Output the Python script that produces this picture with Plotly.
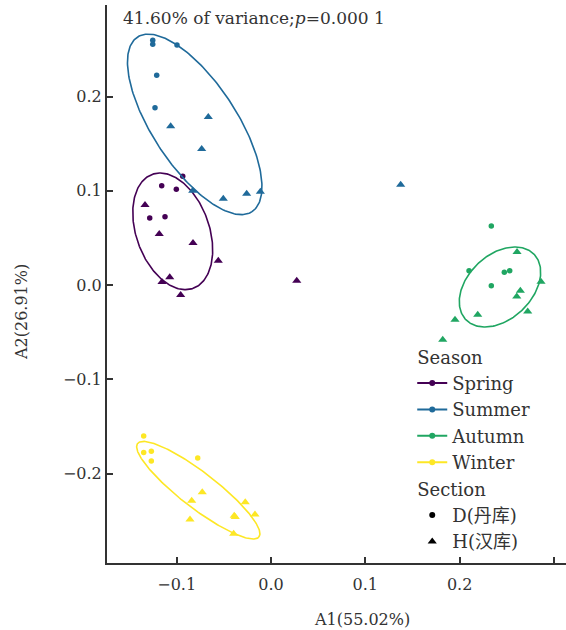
import numpy as np
import plotly.graph_objects as go

# ---------------- data ----------------
seasons = ["Spring", "Summer", "Autumn", "Winter"]
season_colors = ["#440154", "#1F6A9A", "#20A662", "#FDE725"]
sections = ["D(丹库)", "H(汉库)"]

spring_d_a1 = [-0.0936, -0.1159, -0.1004, -0.1286, -0.1124]
spring_d_a2 = [0.1154, 0.1055, 0.1016, 0.0713, 0.0726]
spring_h_a1 = [-0.1336, -0.1185, -0.0827, -0.0559, -0.1074, -0.1156, -0.0958, 0.0273]
spring_h_a2 = [0.0850, 0.0543, 0.0448, 0.0260, 0.0083, 0.0034, -0.0104, 0.0048]

summer_d_a1 = [-0.1254, -0.1254, -0.0997, -0.1212, -0.1230]
summer_d_a2 = [0.2596, 0.2554, 0.2547, 0.2225, 0.1882]
summer_h_a1 = [-0.1064, -0.0665, -0.0735, -0.0830, -0.0506, -0.0258, -0.0113, 0.1375]
summer_h_a2 = [0.1684, 0.1784, 0.1444, 0.1002, 0.0917, 0.0970, 0.0992, 0.1066]

autumn_d_a1 = [0.2336, 0.2100, 0.2474, 0.2531, 0.2336]
autumn_d_a2 = [0.0628, 0.0154, 0.0136, 0.0154, -0.0005]
autumn_h_a1 = [0.2609, 0.2863, 0.2644, 0.2606, 0.2722, 0.2192, 0.1951, 0.1821]
autumn_h_a2 = [0.0352, 0.0037, -0.0058, -0.0119, -0.0278, -0.0313, -0.0366, -0.0578]

winter_d_a1 = [-0.1350, -0.1350, -0.1269, -0.1269, -0.0777]
winter_d_a2 = [-0.1599, -0.1773, -0.1762, -0.1864, -0.1832]
winter_h_a1 = [-0.0729, -0.0841, -0.0273, -0.0170, -0.0859, -0.0379, -0.0390, -0.0396]
winter_h_a2 = [-0.2197, -0.2285, -0.2303, -0.2431, -0.2484, -0.2458, -0.2445, -0.2635]

# confidence ellipses: centre, semi-axes, rotation (deg)
ellipse_cx = [-0.1042, -0.0809, 0.2428, -0.0771]
ellipse_cy = [0.0571, 0.1705, -0.0019, -0.2174]
ellipse_a = [0.0642, 0.1107, 0.0501, 0.0812]
ellipse_b = [0.0387, 0.0446, 0.0340, 0.0189]
ellipse_angle = [-70.3, -56.7, 43.7, -37.6]

x_tickvals = [-0.1, 0.0, 0.1, 0.2, 0.3]
x_ticktext = ["\u22120.1", "0.0", "0.1", "0.2", "0.3"]
y_tickvals = [-0.2, -0.1, 0.0, 0.1, 0.2]
y_ticktext = ["\u22120.2", "\u22120.1", "0.0", "0.1", "0.2"]

title_text = "41.60% of variance;<i>p</i>=0.000 1"
x_title = "A1(55.02%)"
y_title = "A2(26.91%)"

# ---------------- figure ----------------
FONT = "DejaVu Serif, Noto Sans CJK SC, serif"
TXT = "#333333"
fig = go.Figure()

pts = [
    (spring_d_a1, spring_d_a2, spring_h_a1, spring_h_a2),
    (summer_d_a1, summer_d_a2, summer_h_a1, summer_h_a2),
    (autumn_d_a1, autumn_d_a2, autumn_h_a1, autumn_h_a2),
    (winter_d_a1, winter_d_a2, winter_h_a1, winter_h_a2),
]

t = np.linspace(0, 2 * np.pi, 240)
for i, s in enumerate(seasons):
    col = season_colors[i]
    th = np.deg2rad(ellipse_angle[i])
    ex = ellipse_cx[i] + ellipse_a[i] * np.cos(t) * np.cos(th) - ellipse_b[i] * np.sin(t) * np.sin(th)
    ey = ellipse_cy[i] + ellipse_a[i] * np.cos(t) * np.sin(th) + ellipse_b[i] * np.sin(t) * np.cos(th)
    fig.add_trace(go.Scatter(x=ex, y=ey, mode="lines", line=dict(color=col, width=1.6),
                             showlegend=False, hoverinfo="skip"))
    dx, dy, hx, hy = pts[i]
    fig.add_trace(go.Scatter(x=dx, y=dy, mode="markers",
                             marker=dict(symbol="circle", size=5.5, color=col),
                             showlegend=False))
    fig.add_trace(go.Scatter(x=hx, y=hy, mode="markers",
                             marker=dict(symbol="triangle-up", size=8, color=col),
                             showlegend=False))

# legend entries
for i, s in enumerate(seasons):
    fig.add_trace(go.Scatter(x=[None], y=[None], mode="lines+markers", name=s,
                             line=dict(color=season_colors[i], width=2),
                             marker=dict(symbol="circle", size=6, color=season_colors[i]),
                             legendgroup="season",
                             legendgrouptitle=dict(text="Season", font=dict(family=FONT, size=18, color=TXT))))
for sec, sym, sz in zip(sections, ["circle", "triangle-up"], [6, 8]):
    fig.add_trace(go.Scatter(x=[None], y=[None], mode="markers", name=sec,
                             marker=dict(symbol=sym, size=sz, color="black"),
                             legendgroup="section",
                             legendgrouptitle=dict(text="Section", font=dict(family=FONT, size=18, color=TXT))))

axis_common = dict(showgrid=False, zeroline=False, showline=True, linecolor="#333333", linewidth=2,
                   ticks="inside", ticklen=6, tickwidth=1.5, tickcolor="#333333",
                   tickfont=dict(family=FONT, size=16, color=TXT), mirror=False)

fig.update_layout(
    width=566, height=630,
    margin=dict(l=107, r=0, t=5, b=67),
    paper_bgcolor="white", plot_bgcolor="white",
    font=dict(family=FONT, size=16, color=TXT),
    xaxis=dict(range=[-0.1739, 0.3128], tickvals=x_tickvals, ticktext=x_ticktext,
               ticklabelstandoff=6, **axis_common),
    yaxis=dict(range=[-0.2946, 0.2971], tickvals=y_tickvals, ticktext=y_ticktext, **axis_common),
    legend=dict(x=0.665, y=0.4025, xanchor="left", yanchor="top", bgcolor="rgba(0,0,0,0)",
                font=dict(family=FONT, size=18, color=TXT), tracegroupgap=0,
                itemwidth=30),
    showlegend=True,
)

fig.add_annotation(text=title_text, xref="paper", yref="paper", x=0.0305, y=0.9767,
                   xanchor="left", yanchor="middle", showarrow=False,
                   font=dict(family=FONT, size=17, color=TXT))
fig.add_annotation(text=x_title, xref="paper", yref="paper", x=(362 - 107) / 459, y=-(619 - 563) / 558,
                   xanchor="center", yanchor="middle", showarrow=False,
                   font=dict(family=FONT, size=16, color=TXT))
fig.add_annotation(text=y_title, xref="paper", yref="paper", x=-(107 - 21) / 459, y=(563 - 312) / 558,
                   xanchor="center", yanchor="middle", showarrow=False, textangle=-90,
                   font=dict(family=FONT, size=16, color=TXT))

fig.write_html("out.html", config={"displayModeBar": False},
               post_script="document.body.style.margin='0px';")
